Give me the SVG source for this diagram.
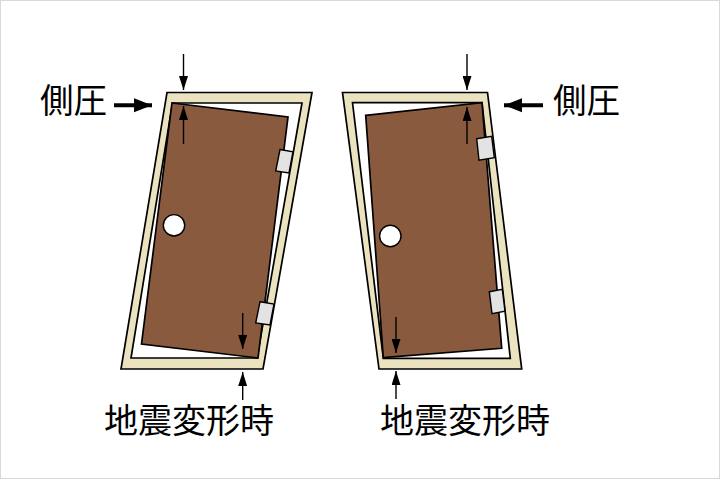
<svg xmlns="http://www.w3.org/2000/svg" width="720" height="479" viewBox="0 0 720 479">
<style>
.frame{fill:#ebe3c0;stroke:#000;stroke-width:1.7;stroke-linejoin:miter}
.open{fill:#fff;stroke:#000;stroke-width:1.7}
.door{fill:#8a5a3f;stroke:#000;stroke-width:1.7;stroke-linejoin:miter}
.hinge{fill:#e3e3e3;stroke:#000;stroke-width:1.4}
.knob{fill:#fff;stroke:#000;stroke-width:1.4}
.thin{fill:none;stroke:#000;stroke-width:1.4;marker-end:url(#thin)}
.thick{fill:none;stroke:#000;stroke-width:4;marker-end:url(#thick)}
.label{font-family:"Noto Sans CJK JP","Noto Sans CJK SC",serif;font-size:34px;fill:#000}
</style>
<defs>
<marker id="thin" markerUnits="userSpaceOnUse" markerWidth="14" markerHeight="9" refX="14" refY="4.5" viewBox="0 0 14 9" orient="auto"><path d="M0 0L14 4.5L0 9Z" fill="#000"/></marker>
<marker id="thick" markerUnits="userSpaceOnUse" markerWidth="18" markerHeight="16" refX="18" refY="8" viewBox="0 0 18 16" orient="auto"><path d="M0 1L18 8L0 15Z" fill="#000"/></marker>
</defs>
<rect x="0.5" y="0.5" width="719" height="478" fill="#fff" stroke="#d9d9d9"/>
<g id="door-left">
<path class="frame" d="M167 92.5H312L263 369H121Z"/>
<path class="open" d="M172.5 103H302L257 358H131Z"/>
<path class="door" d="M172 103L288 117L258 358L141.5 344Z"/>
<path class="hinge" d="M280 149.5L293 151.7L289 173L275.7 171Z"/>
<path class="hinge" d="M260 301.7L274 304L270 325L255.7 323Z"/>
<circle class="knob" cx="174" cy="225.3" r="10.7"/>
</g>
<g id="door-right">
<path class="frame" d="M342.5 92.5H487.5L521.7 369H379Z"/>
<path class="open" d="M352.5 102.7H482L510.3 358.3H383.3Z"/>
<path class="door" d="M365.7 115.3L482 102.7L501.7 348.3L383.3 357.7Z"/>
<path class="hinge" d="M476.7 138.7L491.7 136.3L494.3 157.7L479 160.3Z"/>
<path class="hinge" d="M489.3 291.7L502.3 289.3L505 311.3L492 313.7Z"/>
<circle class="knob" cx="390.3" cy="236" r="10.7"/>
</g>
<g id="connectors">
<path class="thin" d="M183.5 54V90"/>
<path class="thin" d="M183.5 144V106"/>
<path class="thin" d="M242.7 313V349"/>
<path class="thin" d="M242.7 400V372"/>
<path class="thick" d="M114 105.3H152"/>
<path class="thin" d="M467 54V90"/>
<path class="thin" d="M467 144V107"/>
<path class="thin" d="M396 317V353"/>
<path class="thin" d="M396 399V371"/>
<path class="thick" d="M543 105.3H504"/>
</g>
<g id="labels">
<text class="label" x="40" y="113" textLength="67" lengthAdjust="spacingAndGlyphs">側圧</text>
<text class="label" x="553" y="113" textLength="67" lengthAdjust="spacingAndGlyphs">側圧</text>
<text class="label" x="104" y="433" textLength="170" lengthAdjust="spacingAndGlyphs">地震変形時</text>
<text class="label" x="380" y="433" textLength="170" lengthAdjust="spacingAndGlyphs">地震変形時</text>
</g>
</svg>
